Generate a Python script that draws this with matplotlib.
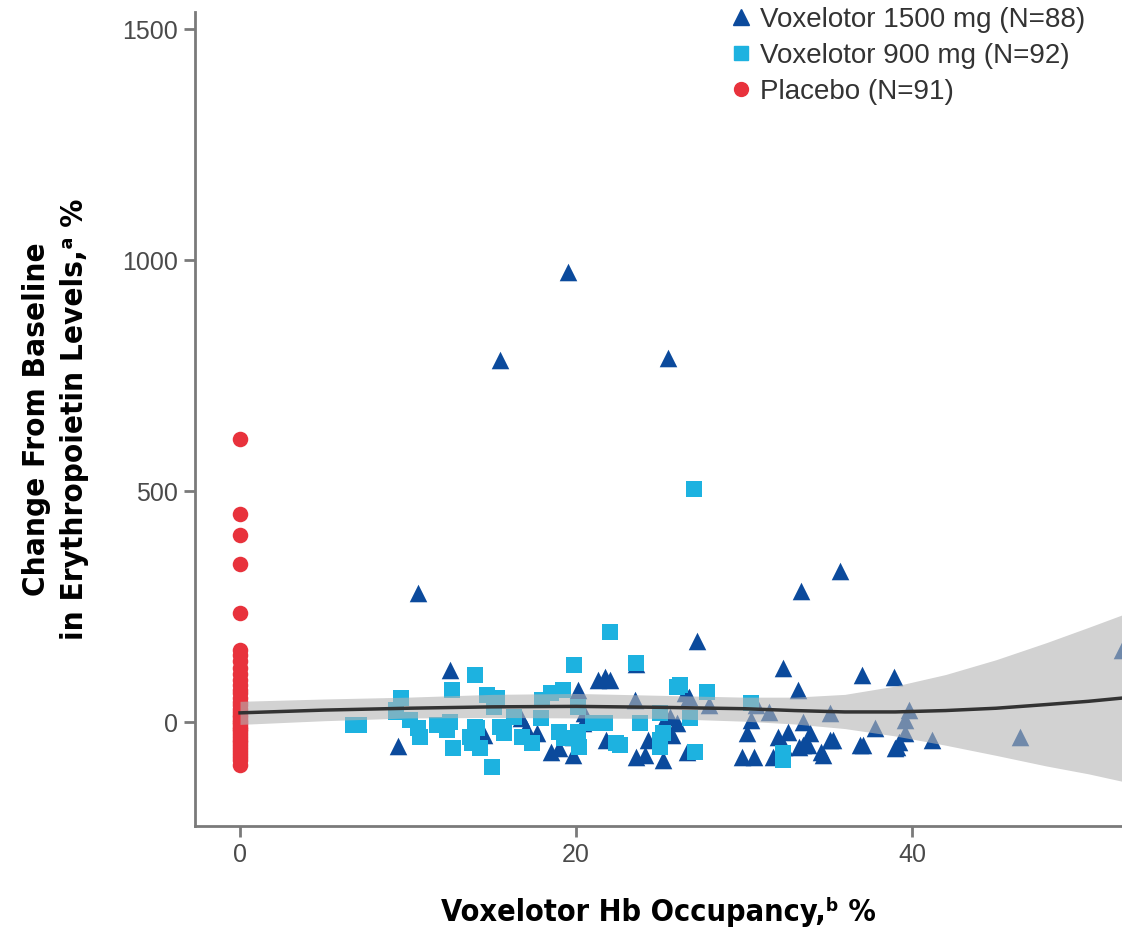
import numpy as np
import matplotlib
matplotlib.use("Agg")
import matplotlib.pyplot as plt
from matplotlib.lines import Line2D

# Voxelotor 1500 mg (triangles)
tri_x = [19.5, 15.5, 25.5, 10.6, 35.7, 33.4, 27.2, 12.5, 23.6, 32.3,
         37.0, 38.9, 33.2, 26.5, 21.7, 21.3, 20.1, 9.4, 52.5, 46.4,
         41.2, 39.8, 39.6, 39.6, 39.2, 39.0, 37.8, 36.9, 35.1, 34.6,
         33.5, 32.6, 32.4, 31.5, 31.7, 30.6, 30.2, 30.4, 30.7, 27.9,
         26.7, 23.5, 25.6, 26.0, 25.1, 25.7, 24.3, 23.6, 24.1, 25.2,
         26.6, 29.9, 14.5, 16.7, 17.0, 17.7, 18.5, 19.0, 19.8, 19.8,
         20.5, 20.4, 21.8, 14.2, 35.1, 33.5, 32.0, 33.9, 33.3, 33.8,
         35.3, 37.1, 34.7, 22.0, 39.1]
tri_y = [974, 784, 788, 279, 327, 284, 175, 112, 126, 117,
         102, 97, 69, 63, 97, 91, 69, -52, 156, -32,
         -39, 26, 4, -24, -43, -56, -13, -50, -39, -65,
         -50, -22, -54, 22, -76, -76, -24, 4, 37, 37,
         54, 48, 11, -2, -6, -28, -39, -76, -71, -82,
         -65, -76, -28, 9, -13, -24, -65, -56, -32, -71,
         19, -2, -39, -39, 19, 0, -32, -24, -54, -50,
         -39, -50, -71, 91, -54]

# Voxelotor 900 mg (squares)
sq_x = [27.0, 22.0, 19.9, 14.0, 12.6, 9.6, 9.3, 6.7, 7.1, 10.1,
        10.6, 10.7, 11.7, 12.3, 12.5, 12.7, 13.7, 14.1, 9.3, 13.8,
        14.3, 14.7, 15.3, 15.1, 14.0, 15.0, 15.5, 15.7, 16.3, 16.8,
        17.4, 18.0, 18.5, 19.2, 17.9, 19.0, 19.3, 20.1, 20.1, 20.2,
        21.0, 21.7, 22.4, 22.6, 23.6, 23.8, 25.0, 25.2, 26.0, 26.2,
        27.8, 26.8, 25.0, 25.0, 27.1, 30.4, 32.3, 32.3]
sq_y = [504, 195, 123, 102, 69, 52, 22, -6, -6, 4,
        -13, -32, -6, -17, 0, -56, -32, -13, 26, -45,
        -56, 58, 52, 32, -11, -97, -11, -24, 11, -32,
        -45, 48, 63, 69, 9, -22, -35, 32, -22, -54,
        -2, -2, -45, -50, 128, -2, 19, -24, 76, 80,
        65, 9, -39, -54, -65, 41, -67, -82]

# Placebo (circles), all at 0 % occupancy
pbo_y = [612, 450, 405, 342, 237, 156, 145, 132, 118, 105,
         92, 80, 70, 62, 52, 44, 36, 28, 22, 16,
         10, 5, 0, -5, -10, -15, -20, -26, -32, -38,
         -44, -50, -56, -62, -68, -75, -82, -93]

# smoothed fit and its confidence band
fit_x = [0, 5, 10, 15, 20, 25, 30, 33, 36, 39, 42, 45, 48, 50.5, 52.5]
fit_y = [20, 26, 30, 33, 34, 32, 29, 25, 22, 22, 25, 30, 38, 45, 52]
fit_lo = [-5, 3, 9, 10, 9, 8, 2, -4, -14, -30, -50, -72, -95, -112, -128]
fit_hi = [45, 50, 54, 60, 62, 58, 54, 54, 60, 78, 103, 135, 172, 205, 232]

C_TRI = "#0b4a9c"
C_SQ = "#1db2e0"
C_PBO = "#e8323c"
GREY = "#7a7a7a"

plt.rcParams["font.family"] = ["Liberation Sans", "DejaVu Sans"]

fig = plt.figure(figsize=(11.22, 9.32), dpi=100)
ax = fig.add_axes([0.1738, 0.1137, 0.8262, 0.8733])

ax.scatter(tri_x, tri_y, marker="^", s=160, color=C_TRI, linewidths=0, zorder=3)
ax.scatter(sq_x, sq_y, marker="s", s=125, color=C_SQ, linewidths=0, zorder=3)
ax.scatter(np.zeros(len(pbo_y)), pbo_y, marker="o", s=125, color=C_PBO,
           linewidths=0, zorder=3)

ax.fill_between(fit_x, fit_lo, fit_hi, color="#b4b4b4", alpha=0.6,
                linewidth=0, zorder=4)
ax.plot(fit_x, fit_y, color="#333333", linewidth=2.5, zorder=5)

ax.set_xlim(-2.68, 52.5)
ax.set_ylim(-225, 1537)
ax.set_xticks([0, 20, 40])
ax.set_yticks([0, 500, 1000, 1500])

for s in ["top", "right"]:
    ax.spines[s].set_visible(False)
for s in ["left", "bottom"]:
    ax.spines[s].set_color(GREY)
    ax.spines[s].set_linewidth(2)
ax.tick_params(axis="both", colors=GREY, width=2, length=8, labelsize=18,
               labelcolor="#4a4a4a", pad=4)

lab_font = ["DejaVu Sans"]
ax.set_xlabel("Voxelotor Hb Occupancy,\u1d47 %", fontsize=22, fontweight="bold",
              family=lab_font, fontstretch="condensed", labelpad=22)
ax.set_ylabel("Change From Baseline\nin Erythropoietin Levels,\u1d43 %",
              fontsize=22.5, fontweight="bold", family=lab_font,
              fontstretch="condensed", labelpad=24, linespacing=1.4)

handles = [
    Line2D([], [], marker="^", linestyle="none", color=C_TRI, markersize=11),
    Line2D([], [], marker="s", linestyle="none", color=C_SQ, markersize=10),
    Line2D([], [], marker="o", linestyle="none", color=C_PBO, markersize=10),
]
labels = ["Voxelotor 1500 mg (N=88)", "Voxelotor 900 mg (N=92)", "Placebo (N=91)"]
leg = ax.legend(handles, labels, loc="upper left", bbox_to_anchor=(0.55, 1.037),
                frameon=False, fontsize=20, handletextpad=0.3, labelspacing=0.36,
                handlelength=0.8)
for t in leg.get_texts():
    t.set_color("#333333")

fig.savefig("out.png", dpi=100)
